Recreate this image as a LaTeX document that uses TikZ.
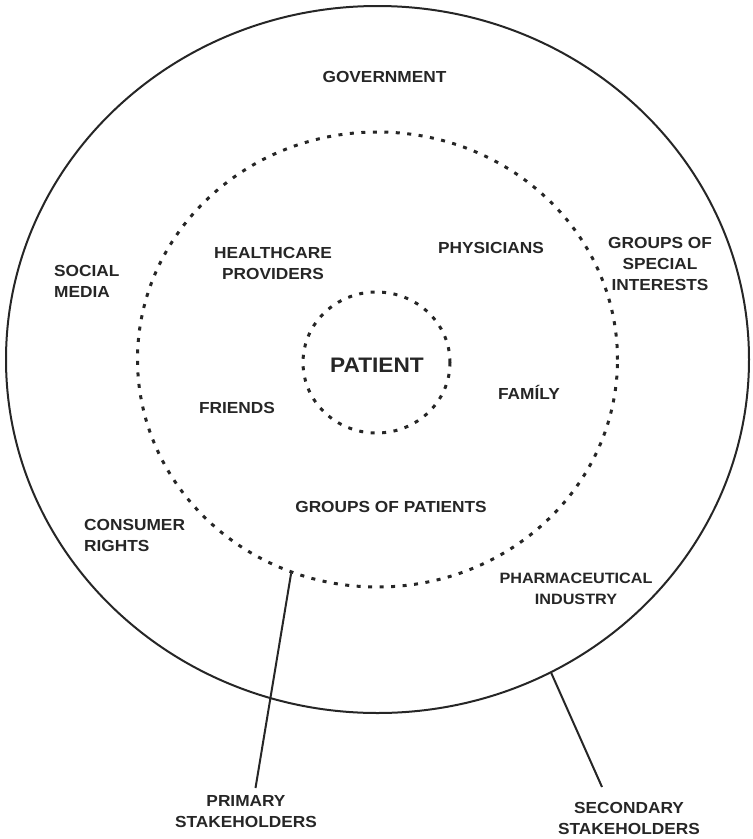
\documentclass[tikz,border=0pt]{standalone}
\usepackage{fontspec}
\setmainfont{Liberation Sans}[FakeStretch=1.08]
\usetikzlibrary{shapes.geometric}
\begin{document}
\begin{tikzpicture}[x=1pt,y=-1pt,
  lbl/.style={inner sep=0pt, align=center, font=\bfseries\fontsize{16}{21}\selectfont, text=black!85},
  lbll/.style={lbl, align=left, anchor=west},
  solidring/.style={ellipse, draw=black!85, line width=2pt, inner sep=0pt},
  dotring/.style={ellipse, draw=black!85, line width=3pt, dash pattern=on 4pt off 7.5pt, inner sep=0pt},
  leader/.style={draw=black!85, line width=2pt}]
\useasboundingbox (0,0) rectangle (753,839);
\node[solidring, minimum width=743pt, minimum height=707pt] (outer) at (377.5,359.5) {};
\node[dotring, minimum width=480pt, minimum height=455pt] (middle) at (377.5,359.5) {};
\node[dotring, minimum width=147pt, minimum height=141pt] (inner) at (376.5,362.5) {};

\node[lbl] (gov) at (384.5,77) {GOVERNMENT};
\node[lbl] (hcp) at (273,263) {HEALTHCARE\\PROVIDERS};
\node[lbl] (phys) at (491,248) {PHYSICIANS};
\node[lbll] (social) at (54,281) {SOCIAL\\MEDIA};
\node[lbl] (gsi) at (660,264) {GROUPS OF\\SPECIAL\\INTERESTS};
\node[lbl, font=\bfseries\fontsize{21}{25}\selectfont] (patient) at (377,365) {PATIENT};
\node[lbl] (friends) at (237,408) {FRIENDS};
\node[lbl] (family) at (529,392) {FAMÍLY};
\node[lbll] (consumer) at (84,535) {CONSUMER\\RIGHTS};
\node[lbl] (gop) at (391,507) {GROUPS OF PATIENTS};
\node[lbl, font=\bfseries\fontsize{15}{21}\selectfont] (pharma) at (576,589) {PHARMACEUTICAL\\INDUSTRY};
\node[lbl] (primary) at (246,812) {PRIMARY\\STAKEHOLDERS};
\node[lbl] (secondary) at (629,818) {SECONDARY\\STAKEHOLDERS};

\coordinate (pend) at (255.5,788);
\coordinate (send) at (602,787);
\draw[leader] (middle.248.6) -- (pend);
\draw[leader] (outer.299.2) -- (send);
\end{tikzpicture}
\end{document}
